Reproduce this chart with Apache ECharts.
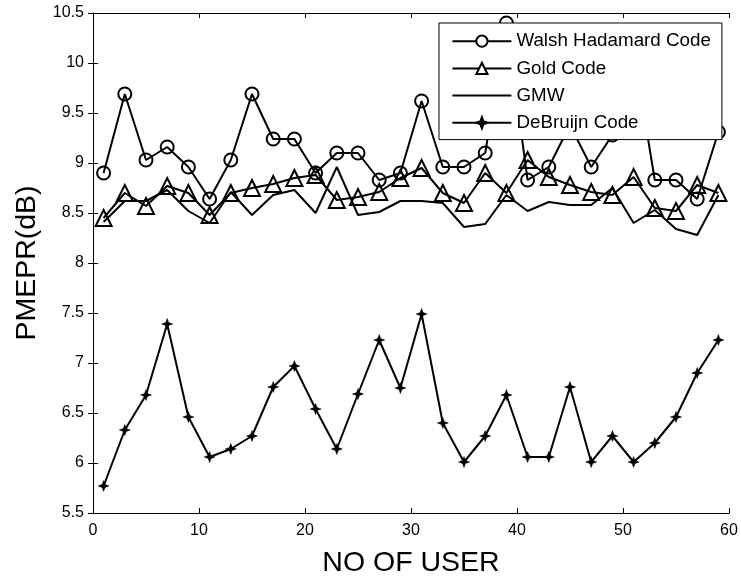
<!DOCTYPE html>
<html>
<head>
<meta charset="utf-8">
<script src="https://cdn.jsdelivr.net/npm/echarts@6/dist/echarts.min.js"></script>
<style>html,body{margin:0;padding:0;background:#fff;}#c{width:741px;height:577px;}</style>
</head>
<body>
<div id="c"></div>
<script>
var users = [1,3,5,7,9,11,13,15,17,19,21,23,25,27,29,31,33,35,37,39,41,43,45,47,49,51,53,55,57,59];
var walsh = [8.90,9.69,9.03,9.16,8.96,8.64,9.03,9.69,9.24,9.24,8.90,9.10,9.10,8.83,8.90,9.62,8.96,8.96,9.10,10.40,8.83,8.96,9.38,8.96,9.28,10.12,8.83,8.83,8.64,9.31];
var gold  = [8.45,8.70,8.57,8.77,8.70,8.48,8.70,8.75,8.79,8.85,8.88,8.63,8.66,8.71,8.85,8.95,8.70,8.60,8.90,8.70,9.03,8.86,8.78,8.71,8.68,8.86,8.55,8.52,8.78,8.70];
var gmw   = [8.41,8.62,8.62,8.73,8.52,8.40,8.71,8.48,8.68,8.73,8.50,8.96,8.48,8.51,8.62,8.62,8.60,8.36,8.39,8.68,8.52,8.61,8.58,8.58,8.75,8.40,8.53,8.34,8.28,8.68];
var debruijn = [5.77,6.33,6.68,7.39,6.46,6.06,6.14,6.27,6.76,6.97,6.54,6.14,6.69,7.23,6.75,7.49,6.40,6.01,6.27,6.68,6.06,6.06,6.76,6.01,6.27,6.01,6.20,6.46,6.90,7.23];
var seriesNames = ['Walsh Hadamard Code','Gold Code','GMW','DeBruijn Code'];

function pairs(ys){ return users.map(function(x,i){ return [x, ys[i]]; }); }

var font = 'Arial, "Liberation Sans", Helvetica, sans-serif';
var star = 'path://M0,-6 L1.6,-1.6 L6,0 L1.6,1.6 L0,6 L-1.6,1.6 L-6,0 L-1.6,-1.6 Z';
var chart = echarts.init(document.getElementById('c'), null, {renderer:'canvas'});
var axisCommon = {
  axisLine:{show:true, lineStyle:{color:'#000', width:1}},
  axisTick:{show:true, inside:true, length:5, lineStyle:{color:'#000', width:1}},
  splitLine:{show:false}
};
chart.setOption({
  animation:false,
  backgroundColor:'#fff',
  grid:{left:93, right:12, top:13, bottom:64, containLabel:false, outerBoundsMode:'none'},
  xAxis:[
    Object.assign({type:'value', min:0, max:60, interval:10, position:'bottom',
      axisLabel:{color:'#000', fontSize:16, fontFamily:font, margin:10},
      name:'NO OF USER', nameLocation:'middle', nameGap:36,
      nameTextStyle:{color:'#000', fontSize:28.5, fontFamily:font}}, axisCommon),
    Object.assign({type:'value', min:0, max:60, interval:10, position:'top',
      axisLabel:{show:false}}, axisCommon)
  ],
  yAxis:[
    Object.assign({type:'value', min:5.5, max:10.5, interval:0.5, position:'left',
      axisLabel:{color:'#000', fontSize:16, fontFamily:font, margin:9},
      name:'PMEPR(dB)', nameLocation:'middle', nameGap:51,
      nameTextStyle:{color:'#000', fontSize:28.5, fontFamily:font}}, axisCommon),
    Object.assign({type:'value', min:5.5, max:10.5, interval:0.5, position:'right',
      axisLabel:{show:false}}, axisCommon)
  ],
  legend:{
    show:true, orient:'vertical', left:439, top:23,
    padding:[8.7,11,7.3,12.4], itemGap:8.2, itemWidth:59, itemHeight:14,
    backgroundColor:'#fff', borderColor:'#000', borderWidth:1, borderRadius:0,
    textStyle:{color:'#000', fontSize:18.8, fontFamily:font},
    data:[
      {name:seriesNames[0], itemStyle:{color:'#fff', borderColor:'#000', borderWidth:2}},
      {name:seriesNames[1], itemStyle:{color:'#fff', borderColor:'#000', borderWidth:2}},
      {name:seriesNames[2], itemStyle:{color:'rgba(0,0,0,0)', borderColor:'rgba(0,0,0,0)', borderWidth:0, opacity:0}},
      {name:seriesNames[3]}
    ]
  },
  series:[
    {name:seriesNames[0], type:'line', data:pairs(walsh), symbol:'circle', symbolSize:13,
      lineStyle:{color:'#000', width:2}, itemStyle:{color:'rgba(255,255,255,0)', borderColor:'#000', borderWidth:2}, z:3},
    {name:seriesNames[1], type:'line', data:pairs(gold), symbol:'triangle', symbolSize:16,
      lineStyle:{color:'#000', width:2}, itemStyle:{color:'rgba(255,255,255,0)', borderColor:'#000', borderWidth:2}, z:3},
    {name:seriesNames[2], type:'line', data:pairs(gmw), symbol:'none',
      lineStyle:{color:'#000', width:2}, itemStyle:{color:'#000'}, z:2},
    {name:seriesNames[3], type:'line', data:pairs(debruijn), symbol:star, symbolSize:11,
      lineStyle:{color:'#000', width:2}, itemStyle:{color:'#000', borderColor:'#000', borderWidth:0.5}, z:3}
  ]
});
</script>
</body>
</html>
